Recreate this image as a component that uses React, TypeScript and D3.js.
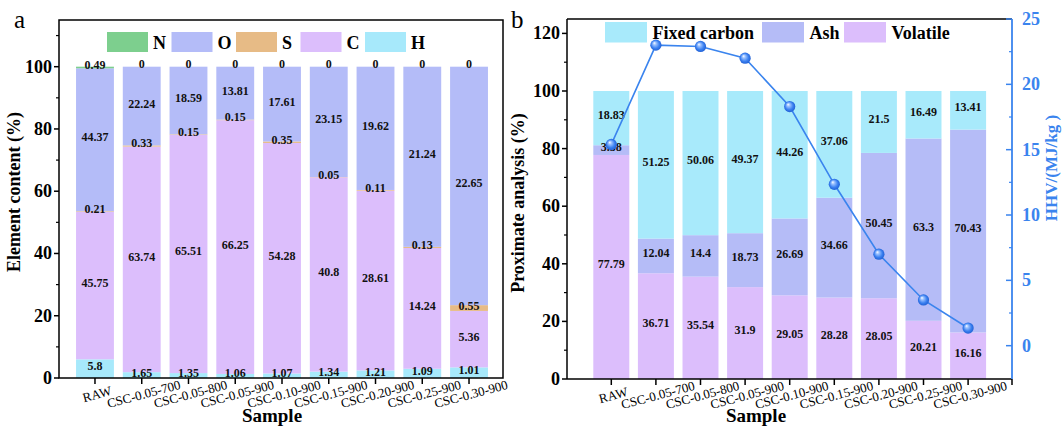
import React from "react";
import * as d3 from "d3";

// samples shared by both panels
const samples = [
  "RAW",
  "CSC-0.05-700",
  "CSC-0.05-800",
  "CSC-0.05-900",
  "CSC-0.10-900",
  "CSC-0.15-900",
  "CSC-0.20-900",
  "CSC-0.25-900",
  "CSC-0.30-900",
];

// panel a: element content (labels show raw values, bars are 100% stacked)
const hVals = [5.8, 1.65, 1.35, 1.06, 1.07, 1.34, 1.21, 1.09, 1.01];
const cVals = [45.75, 63.74, 65.51, 66.25, 54.28, 40.8, 28.61, 14.24, 5.36];
const sVals = [0.21, 0.33, 0.15, 0.15, 0.35, 0.05, 0.11, 0.13, 0.55];
const oVals = [44.37, 22.24, 18.59, 13.81, 17.61, 23.15, 19.62, 21.24, 22.65];
const nVals = [0.49, 0, 0, 0, 0, 0, 0, 0, 0];

// panel b: proximate analysis + HHV
const volatileVals = [77.79, 36.71, 35.54, 31.9, 29.05, 28.28, 28.05, 20.21, 16.16];
const ashVals = [3.38, 12.04, 14.4, 18.73, 26.69, 34.66, 50.45, 63.3, 70.43];
const fixedCarbonVals = [18.83, 51.25, 50.06, 49.37, 44.26, 37.06, 21.5, 16.49, 13.41];
const hhvVals = [15.4, 23.0, 22.9, 22.0, 18.3, 12.35, 7.0, 3.5, 1.35];

const leftTicks = [0, 20, 40, 60, 80, 100];
const leftTicksB = [0, 20, 40, 60, 80, 100, 120];
const hhvTicks = [0, 5, 10, 15, 20, 25];

const FONT = "'Liberation Serif', 'Times New Roman', serif";
const BLUE = "#3a84ee";

const elemKeys = ["H", "C", "S", "O", "N"];
const elemColors: Record<string, string> = {
  N: "#7dcf8e",
  O: "#b4bcf8",
  S: "#e7bb86",
  C: "#dcbefc",
  H: "#a7e9fb",
};
const proxKeys = ["Volatile", "Ash", "Fixed carbon"];
const proxColors: Record<string, string> = {
  Volatile: "#dcbefc",
  Ash: "#b5bcf7",
  "Fixed carbon": "#a8eafb",
};

const elemRows = samples.map((s, i) => ({
  sample: s,
  H: hVals[i],
  C: cVals[i],
  S: sVals[i],
  O: oVals[i],
  N: nVals[i],
}));
const proxRows = samples.map((s, i) => ({
  sample: s,
  Volatile: volatileVals[i],
  Ash: ashVals[i],
  "Fixed carbon": fixedCarbonVals[i],
}));

function XTicks({ x, y0 }: { x: d3.ScaleBand<string>; y0: number }) {
  return (
    <g>
      {samples.map((s) => {
        const cx = x(s)! + x.bandwidth() / 2;
        return (
          <g key={s}>
            <line x1={cx} x2={cx} y1={y0} y2={y0 + 6} stroke="#000" strokeWidth={1.5} />
            <text
              transform={`translate(${cx + 2},${y0 + 16}) rotate(-15)`}
              textAnchor="middle"
              dominantBaseline="central"
              fontSize={13}
              fontFamily={FONT}
            >
              {s}
            </text>
          </g>
        );
      })}
    </g>
  );
}

function PanelA() {
  const left = 59, right = 503, top = 20, bottom = 378;
  const x = d3
    .scaleBand<string>()
    .domain(samples)
    .range([71.6, 492.4])
    .paddingInner(0.19)
    .paddingOuter(0.095);
  const y = d3.scaleLinear().domain([0, 115]).range([bottom, top]);
  const stack = d3
    .stack<any>()
    .keys(elemKeys)
    .offset(d3.stackOffsetExpand)(elemRows);
  const minor = d3.range(10, 115, 20);

  return (
    <g>
      {stack.map((layer) => (
        <g key={layer.key}>
          {layer.map((d, i) => (
            <rect
              key={i}
              x={x(samples[i])}
              width={x.bandwidth()}
              y={y(d[1] * 100)}
              height={Math.max(0, y(d[0] * 100) - y(d[1] * 100))}
              fill={elemColors[layer.key]}
            />
          ))}
        </g>
      ))}
      {stack.map((layer) =>
        layer.map((d, i) => (
          <text
            key={layer.key + i}
            x={x(samples[i])! + x.bandwidth() / 2}
            y={y(((d[0] + d[1]) / 2) * 100) - 2.5}
            textAnchor="middle"
            dominantBaseline="central"
            fontSize={12}
            fontWeight="bold"
            fontFamily={FONT}
            fill="#111"
          >
            {(d.data as any)[layer.key]}
          </text>
        ))
      )}
      {/* legend */}
      {["N", "O", "S", "C", "H"].map((k, i) => (
        <g key={k} transform={`translate(${107 + i * 64.5},32)`}>
          <rect width={41} height={20} fill={elemColors[k]} />
          <text x={46} y={17} fontSize={18} fontWeight="bold" fontFamily={FONT}>
            {k}
          </text>
        </g>
      ))}
      {/* frame */}
      <rect x={left} y={top} width={right - left} height={bottom - top} fill="none" stroke="#000" strokeWidth={1.5} />
      {leftTicks.map((t) => (
        <g key={t}>
          <line x1={left - 5} x2={left} y1={y(t)} y2={y(t)} stroke="#000" strokeWidth={1.5} />
          <text
            x={left - 7}
            y={y(t)}
            textAnchor="end"
            dominantBaseline="central"
            fontSize={18}
            fontWeight="bold"
            fontFamily={FONT}
          >
            {t}
          </text>
        </g>
      ))}
      {minor.map((t) => (
        <line key={t} x1={left - 3} x2={left} y1={y(t)} y2={y(t)} stroke="#000" strokeWidth={1.2} />
      ))}
      <XTicks x={x} y0={bottom} />
      <text
        transform={`translate(14,192) rotate(-90)`}
        textAnchor="middle"
        dominantBaseline="central"
        fontSize={18}
        fontWeight="bold"
        fontFamily={FONT}
      >
        Element content (%)
      </text>
      <text x={272} y={422} textAnchor="middle" fontSize={19} fontWeight="bold" fontFamily={FONT}>
        Sample
      </text>
      <text x={14} y={28} fontSize={25} fontFamily={FONT}>
        a
      </text>
    </g>
  );
}

function PanelB() {
  const left = 567, right = 1012, top = 19, bottom = 379;
  const x = d3
    .scaleBand<string>()
    .domain(samples)
    .range([589, 990.4])
    .paddingInner(0.193)
    .paddingOuter(0.0965);
  const y = d3.scaleLinear().domain([0, 125]).range([bottom, top]);
  const y2 = d3.scaleLinear().domain([-2.55, 25]).range([bottom, top]);
  const stack = d3.stack<any>().keys(proxKeys)(proxRows);
  const minor = d3.range(10, 125, 20);
  const minor2 = d3.range(2.5, 25, 5);
  const cx = (s: string) => x(s)! + x.bandwidth() / 2;
  const line = d3
    .line<number>()
    .x((_, i) => cx(samples[i]))
    .y((v) => y2(v));

  return (
    <g>
      <defs>
        <radialGradient id="ball" cx="50%" cy="50%" r="55%" fx="35%" fy="30%">
          <stop offset="0%" stopColor="#ffffff" />
          <stop offset="25%" stopColor="#9cc2ff" />
          <stop offset="65%" stopColor="#3a80f0" />
          <stop offset="100%" stopColor="#1c5ad0" />
        </radialGradient>
      </defs>
      {stack.map((layer) => (
        <g key={layer.key}>
          {layer.map((d, i) => (
            <rect
              key={i}
              x={x(samples[i])}
              width={x.bandwidth()}
              y={y(d[1])}
              height={y(d[0]) - y(d[1])}
              fill={proxColors[layer.key]}
            />
          ))}
        </g>
      ))}
      {stack.map((layer) =>
        layer.map((d, i) => (
          <text
            key={layer.key + i}
            x={cx(samples[i])}
            y={y((d[0] + d[1]) / 2) - 3}
            textAnchor="middle"
            dominantBaseline="central"
            fontSize={12}
            fontWeight="bold"
            fontFamily={FONT}
            fill="#111"
          >
            {(d.data as any)[layer.key]}
          </text>
        ))
      )}
      {/* legend */}
      {[
        { k: "Fixed carbon", x: 605 },
        { k: "Ash", x: 762 },
        { k: "Volatile", x: 844 },
      ].map((l) => (
        <g key={l.k} transform={`translate(${l.x},22)`}>
          <rect width={42} height={20.5} fill={proxColors[l.k]} />
          <text x={47.5} y={16.5} fontSize={18} fontWeight="bold" fontFamily={FONT}>
            {l.k}
          </text>
        </g>
      ))}
      {/* HHV line */}
      <path d={line(hhvVals) || ""} fill="none" stroke={BLUE} strokeWidth={1.6} />
      {hhvVals.map((v, i) => (
        <circle key={i} cx={cx(samples[i])} cy={y2(v)} r={5.6} fill="url(#ball)" />
      ))}
      {/* frame */}
      <line x1={left} x2={right} y1={top} y2={top} stroke="#000" strokeWidth={1.5} />
      <line x1={left} x2={right} y1={bottom} y2={bottom} stroke="#000" strokeWidth={1.5} />
      <line x1={left} x2={left} y1={top} y2={bottom} stroke="#000" strokeWidth={1.5} />
      <line x1={right} x2={right} y1={bottom} y2={bottom + 6} stroke="#000" strokeWidth={1.5} />
      <line x1={right} x2={right} y1={top} y2={bottom} stroke={BLUE} strokeWidth={1.8} />
      {leftTicksB.map((t) => (
        <g key={t}>
          <line x1={left - 5} x2={left} y1={y(t)} y2={y(t)} stroke="#000" strokeWidth={1.5} />
          <text
            x={left - 7}
            y={y(t)}
            textAnchor="end"
            dominantBaseline="central"
            fontSize={18}
            fontWeight="bold"
            fontFamily={FONT}
          >
            {t}
          </text>
        </g>
      ))}
      {minor.map((t) => (
        <line key={t} x1={left - 3} x2={left} y1={y(t)} y2={y(t)} stroke="#000" strokeWidth={1.2} />
      ))}
      {hhvTicks.map((t) => (
        <g key={t}>
          <line x1={right - 6} x2={right} y1={y2(t)} y2={y2(t)} stroke={BLUE} strokeWidth={1.5} />
          <text
            x={right + 10}
            y={y2(t)}
            dominantBaseline="central"
            fontSize={18}
            fontWeight="bold"
            fontFamily={FONT}
            fill={BLUE}
          >
            {t}
          </text>
        </g>
      ))}
      {minor2.map((t) => (
        <line key={t} x1={right - 3} x2={right} y1={y2(t)} y2={y2(t)} stroke={BLUE} strokeWidth={1.2} />
      ))}
      <XTicks x={x} y0={bottom} />
      <text
        transform={`translate(518,203) rotate(-90)`}
        textAnchor="middle"
        dominantBaseline="central"
        fontSize={18}
        fontWeight="bold"
        fontFamily={FONT}
      >
        Proximate analysis (%)
      </text>
      <text
        transform={`translate(1051,168) rotate(-90)`}
        textAnchor="middle"
        dominantBaseline="central"
        fontSize={17}
        fontWeight="bold"
        fontFamily={FONT}
        fill={BLUE}
      >
        HHV/(MJ/kg )
      </text>
      <text x={756} y={422} textAnchor="middle" fontSize={19} fontWeight="bold" fontFamily={FONT}>
        Sample
      </text>
      <text x={511} y={28} fontSize={25} fontFamily={FONT}>
        b
      </text>
    </g>
  );
}

export default function App() {
  return (
    <svg
      width={1062}
      height={428}
      style={{ position: "absolute", left: 0, top: 0, background: "#fff" }}
    >
      <PanelA />
      <PanelB />
    </svg>
  );
}
